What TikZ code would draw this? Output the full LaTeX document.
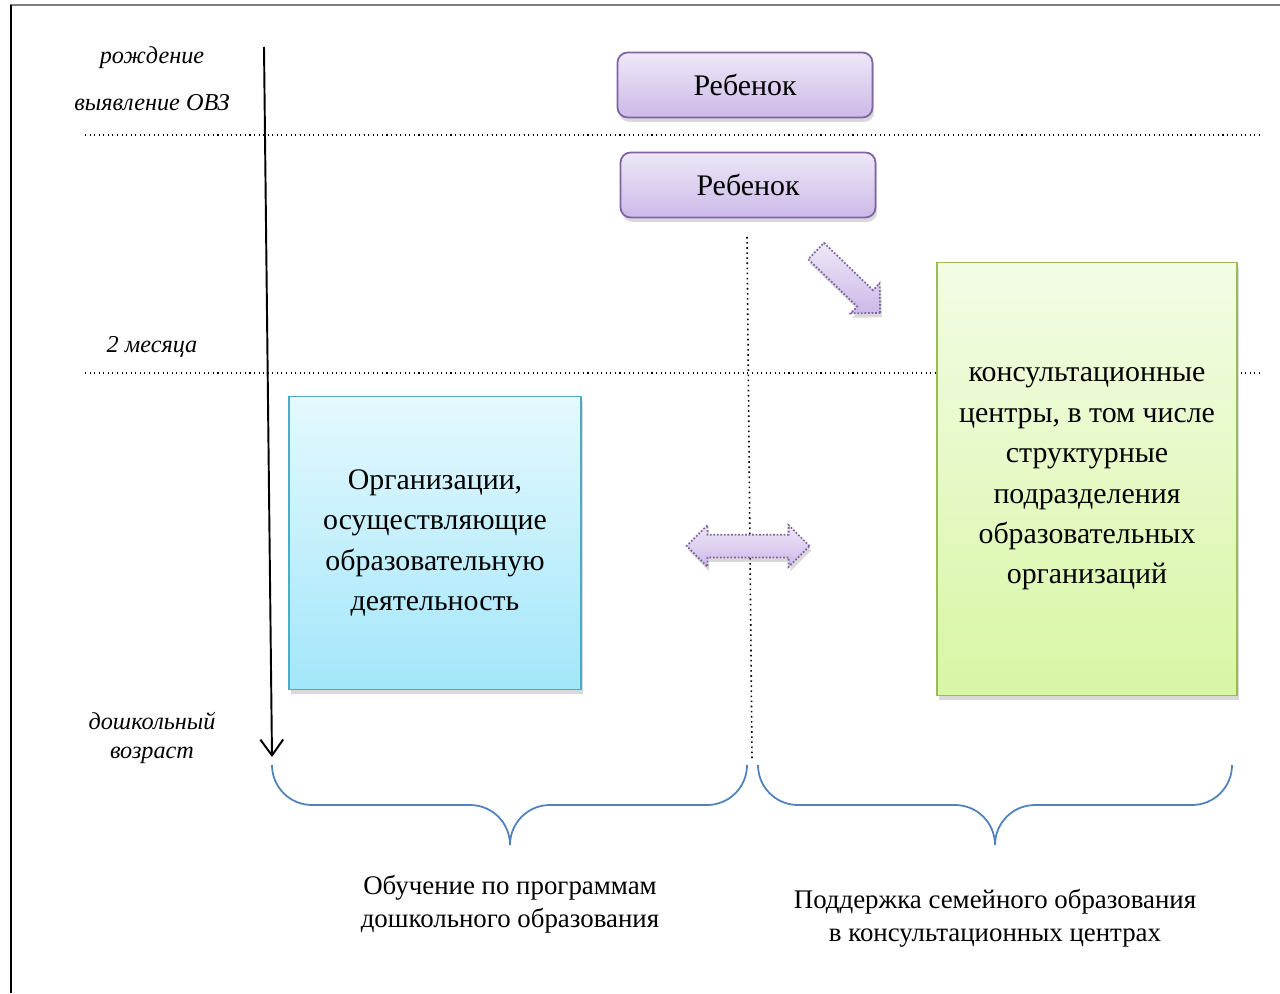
\documentclass[tikz,border=0pt]{standalone}
\usepackage{fontspec}
\setmainfont{Liberation Serif}
\usetikzlibrary{arrows.meta,positioning,shadows,shapes.arrows}
\definecolor{kidline}{HTML}{8064A2}
\definecolor{kidtop}{HTML}{EEE8F8}
\definecolor{kidbot}{HTML}{CCB9E8}
\definecolor{orgline}{HTML}{4BACC6}
\definecolor{orgtop}{HTML}{E5F9FE}
\definecolor{orgbot}{HTML}{A3E6FA}
\definecolor{cenline}{HTML}{9BBB59}
\definecolor{centop}{HTML}{F3FCE6}
\definecolor{cenbot}{HTML}{D8F6A4}
\definecolor{braceblue}{HTML}{4F81BD}

\begin{document}
\begin{tikzpicture}[x=0.02cm,y=-0.02cm,
  shade/.style={drop shadow={opacity=0.3,shadow xshift=1pt,shadow yshift=-2.5pt}},
  kidbox/.style={draw=kidline,line width=1pt,rounded corners=0.2cm,top color=kidtop,bottom color=kidbot,
    minimum width=5.1cm,minimum height=1.3cm,font=\fontsize{17}{23}\selectfont,shade},
  bigbox/.style={line width=1pt,align=center,font=\fontsize{17}{23}\selectfont,shade},
  agelbl/.style={font=\itshape\fontsize{13.8}{17}\selectfont,align=center},
  sumlbl/.style={font=\fontsize{15.3}{18.7}\selectfont,align=center},
  blockarr/.style={draw=kidline,densely dotted,line width=1pt,top color=kidtop,bottom color=kidbot,
    inner sep=0pt,text height=0.21cm,text depth=0.21cm,shade},
  stage/.style={dotted,line width=0.6pt},
  curly/.style={draw=braceblue,line width=1pt}]
\useasboundingbox (0,0) rectangle (1280,993);

% frame
\draw[gray,line width=1.7pt] (10,5) -- (1280,5);
\draw[line width=0.8pt] (11,5) -- (11,993);

% stages
\draw[stage] (85,135) -- (1262,135);
\draw[stage] (85,373) -- (1262,373);
\node[agelbl] (birth) at (152,58) {рождение};
\node[agelbl] (ovz) at (152,103) {выявление ОВЗ};
\node[agelbl] (month) at (152,347) {2 месяца};
\node[agelbl] (preschool) at (152,738) {дошкольный\\возраст};

% time axis
\coordinate (axtop) at (264,47);
\coordinate (axbot) at (272,757);
\draw[line width=1.1pt,-{Straight Barb[length=9pt,width=13pt,line width=1.1pt]}] (axtop) -- (axbot);

% split
\coordinate (splittop) at (747,237);
\coordinate (splitbot) at (752,758);
\draw[dotted,line width=0.9pt] (splittop) -- (splitbot);

% children
\node[kidbox] (kid1) at (745,85) {Ребенок};
\node[kidbox] (kid2) at (748,185) {Ребенок};

% organisations
\node[bigbox,draw=orgline,top color=orgtop,bottom color=orgbot,minimum width=5.84cm,minimum height=5.86cm]
  (org) at (435,543) {Организации,\\осуществляющие\\образовательную\\деятельность};
\node[bigbox,draw=cenline,top color=centop,bottom color=cenbot,minimum width=6cm,minimum height=8.66cm]
  (centr) at (1087,479) {консультационные\\центры, в том числе\\структурные\\подразделения\\образовательных\\организаций};

% block arrows
\node[blockarr,single arrow,single arrow head extend=0.19cm,minimum height=1.78cm,rotate=-44] (toward) at (844,278) {};
\node[blockarr,double arrow,double arrow head extend=0.19cm,minimum height=2.46cm] (both) at (748,546) {};

% braces
\draw[curly] (272,765) to[out=-90,in=180] (312,805) -- (470,805) to[out=0,in=90] (510,845)
  to[out=90,in=180] (550,805) -- (707,805) to[out=0,in=-90] (747,765);
\draw[curly] (758,765) to[out=-90,in=180] (798,805) -- (955,805) to[out=0,in=90] (995,845)
  to[out=90,in=180] (1035,805) -- (1192,805) to[out=0,in=-90] (1232,765);
\node[sumlbl] (teach) at (510,904) {Обучение по программам\\дошкольного образования};
\node[sumlbl] (support) at (995,918) {Поддержка семейного образования\\в консультационных центрах};
\end{tikzpicture}
\end{document}
